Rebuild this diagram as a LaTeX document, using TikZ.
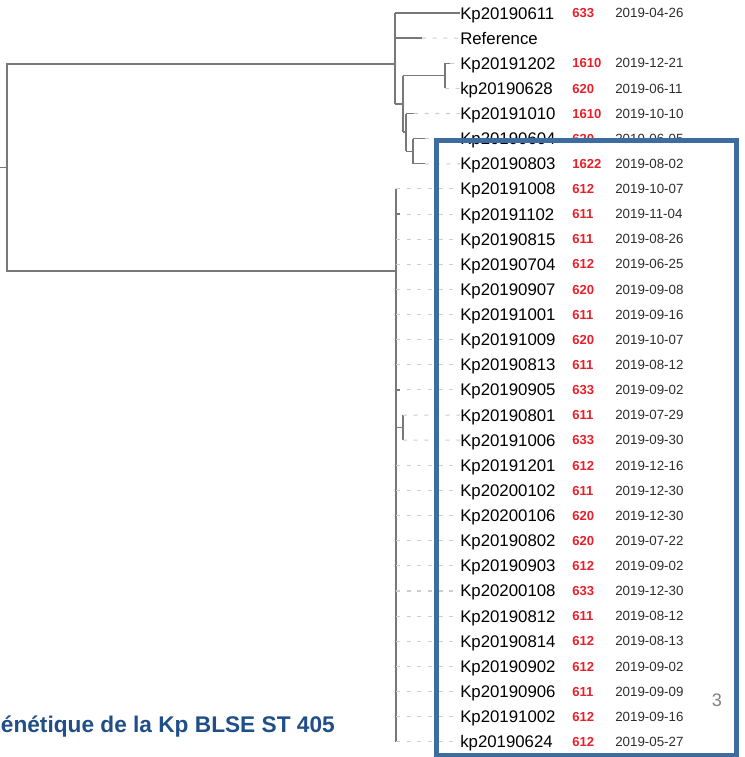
\documentclass[tikz,border=0pt]{standalone}
\usepackage{fontspec}
\setmainfont{Liberation Sans}
\usetikzlibrary{positioning}
\definecolor{boxblue}{RGB}{62,108,158}
\definecolor{titleblue}{RGB}{31,78,137}
\definecolor{stred}{RGB}{232,32,42}
\definecolor{treegray}{RGB}{120,120,120}
\definecolor{leadgray}{RGB}{205,205,205}
\definecolor{dategray}{RGB}{45,45,45}

\begin{document}
\begin{tikzpicture}[
  x=0.75pt, y=-0.75pt,
  branch/.style={draw=treegray, line width=1pt},
  leader/.style={draw=leadgray, line width=0.8pt, dash pattern=on 3pt off 5pt},
  tip/.style={
    anchor=west, inner sep=0pt, text height=9pt, text depth=0pt,
    font=\fontsize{12.6}{14}\selectfont
  },
  stnum/.style={
    anchor=west, inner sep=0pt, text height=7pt, text depth=0pt,
    font=\fontsize{9.8}{11}\selectfont\bfseries, text=stred
  },
  datelbl/.style={
    anchor=west, inner sep=0pt, text height=7pt, text depth=0pt,
    font=\fontsize{10}{11}\selectfont, text=dategray
  },
]
\useasboundingbox (0,0) rectangle (744,757);

\def\rowgap{25.13}

% tip labels: name / ST / date
\foreach \name/\st/\dt [count=\i from 0] in {
  Kp20190611/633/2019-04-26, Reference//, Kp20191202/1610/2019-12-21,
  kp20190628/620/2019-06-11, Kp20191010/1610/2019-10-10,
  Kp20190604/620/2019-06-05, Kp20190803/1622/2019-08-02,
  Kp20191008/612/2019-10-07, Kp20191102/611/2019-11-04,
  Kp20190815/611/2019-08-26, Kp20190704/612/2019-06-25,
  Kp20190907/620/2019-09-08, Kp20191001/611/2019-09-16,
  Kp20191009/620/2019-10-07, Kp20190813/611/2019-08-12,
  Kp20190905/633/2019-09-02, Kp20190801/611/2019-07-29,
  Kp20191006/633/2019-09-30, Kp20191201/612/2019-12-16,
  Kp20200102/611/2019-12-30, Kp20200106/620/2019-12-30,
  Kp20190802/620/2019-07-22, Kp20190903/612/2019-09-02,
  Kp20200108/633/2019-12-30, Kp20190812/611/2019-08-12,
  Kp20190814/612/2019-08-13, Kp20190902/612/2019-09-02,
  Kp20190906/611/2019-09-09, Kp20191002/612/2019-09-16,
  kp20190624/612/2019-05-27} {
  \node[tip] (n\i) at (460, 13+\i*\rowgap) {\name};
  \node[stnum] (s\i) at (572, 13+\i*\rowgap) {\st};
  \node[datelbl] (d\i) at (615, 13+\i*\rowgap) {\dt};
}

% root
\draw[branch] (0,167.5) -- (7,167.5);
\draw[branch] (395,64) -- (7,64) -- (7,271) -- (396,271);

% upper clade
\draw[branch] (395,13) -- (395,104);
\draw[branch] (395,13) -- (n0.west);
\draw[branch] (395,38.1) -- (422,38.1);
\draw[leader] (422,38.1) -- (n1.west);
\draw[branch] (395,104) -- (403,104);
\draw[branch] (403,75.8) -- (403,132);
\draw[branch] (403,75.8) -- (445,75.8);
\draw[branch] (445,63.3) -- (445,88.4);
\draw[branch] (445,63.3) -- (450,63.3);
\draw[leader] (450,63.3) -- (n2.west);
\draw[leader] (445,88.4) -- (n3.west);
\draw[branch] (403,132) -- (406,132);
\draw[branch] (406,113.5) -- (406,151.2);
\draw[branch] (406,113.5) -- (414,113.5);
\draw[leader] (414,113.5) -- (n4.west);
\draw[branch] (406,151.2) -- (413,151.2);
\draw[branch] (413,138.7) -- (413,163.8);
\draw[branch] (413,138.7) -- (425,138.7);
\draw[branch] (413,163.8) -- (425,163.8);
\draw[leader] (425,138.7) -- (n5.west);
\draw[leader] (425,163.8) -- (n6.west);

% lower clade
\draw[branch, line width=1.3pt] (396,188.9) -- (396,741.8);
\foreach \i in {7,...,15,18,19,...,29}
  \draw[leader] (396,13+\i*\rowgap) -- (n\i.west);
\foreach \i in {8,15}
  \draw[branch] (396,13+\i*\rowgap) -- (400,13+\i*\rowgap);
\draw[branch] (396,427.6) -- (403,427.6);
\draw[branch] (403,415.1) -- (403,440.2);
\draw[leader] (403,415.1) -- (n16.west);
\draw[leader] (403,440.2) -- (n17.west);

% highlight frame
\draw[boxblue, line width=3.75pt] (436,140) rectangle (736,755);

\node[text=gray, font=\fontsize{13.6}{15}\selectfont] (pageno) at (717,700) {3};
\node[anchor=base east, inner sep=0pt, text=titleblue,
  font=\fontsize{17}{20}\selectfont\bfseries] (caption) at (335,732)
  {énétique de la Kp BLSE ST 405};
\end{tikzpicture}
\end{document}
